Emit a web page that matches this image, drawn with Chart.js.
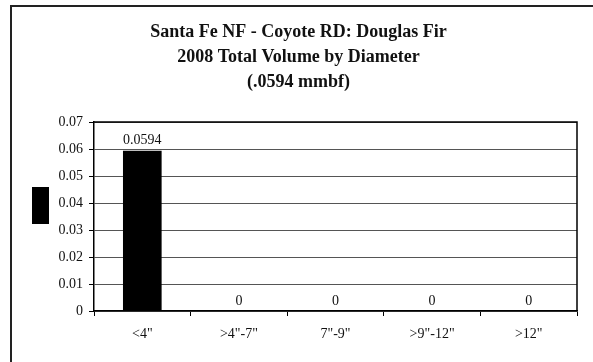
<!DOCTYPE html>
<html>
<head>
<meta charset="utf-8">
<script src="https://cdn.jsdelivr.net/npm/chart.js@4"></script>
<style>
  html, body { margin: 0; padding: 0; background: #fff; }
  #wrap { position: relative; width: 593px; height: 362px; overflow: hidden; }
  #frame { position: absolute; left: 10px; top: 5px; width: 581px; height: 400px;
           border-left: 2px solid #222; border-top: 2px solid #222; border-right: 1px solid #ddd; }
  canvas { position: absolute; left: 0; top: 0; }
</style>
</head>
<body>
<div id="wrap">
  <div id="frame"></div>
  <canvas id="c" width="593" height="362"></canvas>
</div>
<script>
// dữ liệu của biểu đồ
const categories = ['<4"', '>4"-7"', '7"-9"', '>9"-12"', '>12"'];
const volumes = [0.0594, 0, 0, 0, 0];
const yTicks = [0, 0.01, 0.02, 0.03, 0.04, 0.05, 0.06, 0.07];
const titleLines = ['Santa Fe NF - Coyote RD: Douglas Fir', '2008 Total Volume by Diameter', '(.0594 mmbf)'];

const serif = '"Liberation Serif", "Times New Roman", serif';

// vẽ nhãn giá trị trên đầu cột
const valueLabels = {
  id: 'valueLabels',
  afterDatasetsDraw(chart) {
    const ctx = chart.ctx;
    const meta = chart.getDatasetMeta(0);
    ctx.save();
    ctx.font = '14px ' + serif;
    ctx.fillStyle = '#111';
    ctx.textAlign = 'center';
    ctx.textBaseline = 'bottom';
    meta.data.forEach((bar, i) => {
      ctx.fillText(String(volumes[i]), bar.x, bar.y - 3);
    });
    ctx.restore();
  }
};

// khung vùng vẽ + ô chú thích màu đen
const areaFrame = {
  id: 'areaFrame',
  afterDraw(chart) {
    const { ctx, chartArea: a } = chart;
    ctx.save();
    ctx.strokeStyle = '#000';
    ctx.lineWidth = 1.5;
    ctx.beginPath();
    ctx.moveTo(a.left, a.top);
    ctx.lineTo(a.right, a.top);
    ctx.lineTo(a.right, a.bottom);
    ctx.stroke();
    // legend box (không có chữ)
    ctx.fillStyle = '#000';
    ctx.fillRect(32, 187, 17, 37);
    ctx.restore();
  }
};

new Chart(document.getElementById('c').getContext('2d'), {
  type: 'bar',
  data: {
    labels: categories,
    datasets: [{
      label: '',
      data: volumes,
      backgroundColor: '#000',
      borderWidth: 0,
      barPercentage: 0.4,
      categoryPercentage: 1.0
    }]
  },
  options: {
    responsive: false,
    animation: false,
    layout: { padding: { top: 5, right: 16, bottom: 0, left: 20 } },
    plugins: {
      legend: { display: false },
      tooltip: { enabled: false },
      title: {
        display: true,
        text: titleLines,
        color: '#111',
        font: { family: serif, size: 18, weight: 'bold', lineHeight: 1.39 },
        padding: { top: 15, bottom: 27 }
      }
    },
    scales: {
      x: {
        grid: { display: true, drawOnChartArea: false, drawTicks: true, tickLength: 5, color: '#000', lineWidth: 1 },
        border: { color: '#000', width: 1.5 },
        ticks: { color: '#111', font: { family: serif, size: 14 }, padding: 10, maxRotation: 0 },
        afterFit(scale) { scale.height = 51; }
      },
      y: {
        min: 0,
        max: 0.07,
        afterBuildTicks(scale) { scale.ticks = yTicks.map(v => ({ value: v })); },
        grid: { color: '#555', lineWidth: 1, tickLength: 5, tickColor: '#000' },
        border: { color: '#000', width: 1.5 },
        ticks: {
          color: '#111',
          font: { family: serif, size: 14 },
          padding: 6,
          callback: v => v === 0 ? '0' : v.toFixed(2)
        },
        afterFit(scale) { scale.width = 74; }
      }
    }
  },
  plugins: [valueLabels, areaFrame]
});
</script>
</body>
</html>
